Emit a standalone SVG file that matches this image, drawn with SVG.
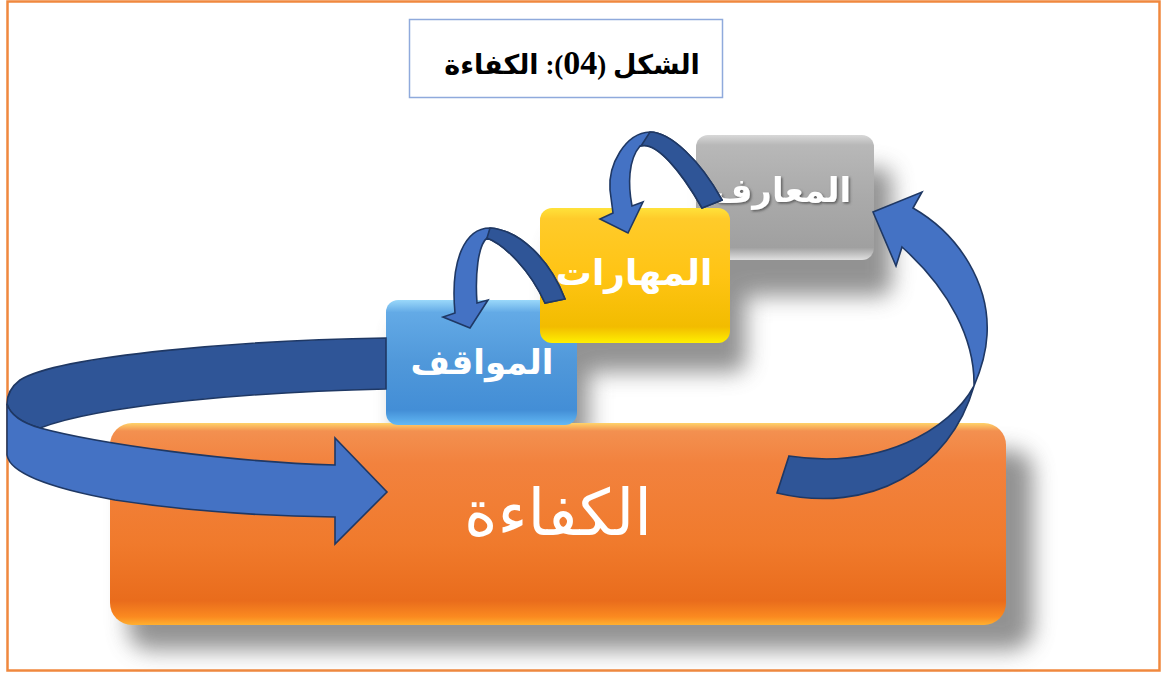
<svg xmlns="http://www.w3.org/2000/svg" width="1164" height="673" viewBox="0 0 1164 673">
<style>
.arw{fill:#4472C4;stroke:#1F3864;stroke-width:1.6;stroke-linejoin:miter}
.dk{fill:#2F5597;stroke:#1F3864;stroke-width:1.6}
.lbl{font-family:'DejaVu Sans','Noto Sans',sans-serif;font-weight:bold;fill:#FFFFFF;text-anchor:middle}
</style>
<defs>
<filter id="sh" x="-20%" y="-30%" width="140%" height="170%"><feGaussianBlur stdDeviation="11"/></filter>
<filter id="tsh" x="-10%" y="-20%" width="120%" height="140%"><feDropShadow dx="1.5" dy="1.5" stdDeviation="0.8" flood-color="#555555" flood-opacity="0.9"/></filter>
<linearGradient id="gOr" x1="0" y1="0" x2="0" y2="1">
<stop offset="0" stop-color="#FFD36A"/><stop offset="0.04" stop-color="#F39050"/><stop offset="0.2" stop-color="#F2823E"/><stop offset="0.6" stop-color="#F07A2C"/><stop offset="0.88" stop-color="#E96C1C"/><stop offset="0.96" stop-color="#FB8A20"/><stop offset="1" stop-color="#FFB030"/>
</linearGradient>
<linearGradient id="gGr" x1="0" y1="0" x2="0" y2="1">
<stop offset="0" stop-color="#D8D8D8"/><stop offset="0.08" stop-color="#B8B8B8"/><stop offset="0.5" stop-color="#AAAAAA"/><stop offset="0.9" stop-color="#A0A0A0"/><stop offset="1" stop-color="#E0E0E0"/>
</linearGradient>
<linearGradient id="gYe" x1="0" y1="0" x2="0" y2="1">
<stop offset="0" stop-color="#FFE23A"/><stop offset="0.08" stop-color="#FFCB2A"/><stop offset="0.5" stop-color="#FFC414"/><stop offset="0.88" stop-color="#F2BC00"/><stop offset="1" stop-color="#FFF000"/>
</linearGradient>
<linearGradient id="gBl" x1="0" y1="0" x2="0" y2="1">
<stop offset="0" stop-color="#9AD8FA"/><stop offset="0.1" stop-color="#63AAE6"/><stop offset="0.5" stop-color="#5098DA"/><stop offset="0.88" stop-color="#438ED6"/><stop offset="1" stop-color="#62B8F4"/>
</linearGradient>
</defs>
<rect x="0" y="0" width="1164" height="673" fill="#FFFFFF"/>
<rect x="7.5" y="1.5" width="1152" height="669" fill="none" stroke="#F0883E" stroke-width="2.5"/>

<g id="title">
<rect x="409.5" y="19.5" width="313" height="78" fill="#FFFFFF" stroke="#8FAADC" stroke-width="1.5"/>
<text x="572" y="74" direction="rtl" text-anchor="middle" font-family="'Liberation Serif','DejaVu Sans',serif" font-weight="bold" font-size="27" fill="#000000">الشكل (<tspan font-size="34" font-weight="bold" font-family="'Liberation Serif',serif">04</tspan>): الكفاءة</text>
</g>

<g id="shadows" fill="#6E6E6E" opacity="0.75" filter="url(#sh)">
<rect x="128" y="450" width="905" height="200" rx="22"/>
<rect x="712" y="168" width="180" height="128" rx="12"/>
<rect x="554" y="238" width="192" height="134" rx="12"/>
<rect x="398" y="326" width="191" height="120" rx="12"/>
</g>

<g id="node-kafaa">
<rect x="110" y="423" width="896" height="202" rx="22" fill="url(#gOr)"/>
<text x="558" y="535" direction="rtl" text-anchor="middle" font-family="'DejaVu Sans','Noto Sans',sans-serif" font-size="64" fill="#FFFFFF">الكفاءة</text>
</g>

<g id="node-maaref">
<rect x="696" y="135" width="178" height="125" rx="12" fill="url(#gGr)"/>
<text class="lbl" x="782" y="202" direction="rtl" font-size="34" filter="url(#tsh)">المعارف</text>
</g>

<g id="node-mawaqif">
<rect x="386" y="300" width="191" height="125" rx="12" fill="url(#gBl)"/>
<text class="lbl" x="482" y="374" direction="rtl" font-size="34">المواقف</text>
</g>

<g id="node-maharat">
<rect x="540" y="208" width="190" height="135" rx="12" fill="url(#gYe)"/>
<text class="lbl" x="634" y="285" direction="rtl" font-size="36">المهارات</text>
</g>

<g id="connectors">
<path class="dk" d="M386,338 C250,340 60,355 20,380 Q7,390 7,404 Q12,420 40,428 C100,405 250,392 386,389 Z"/>
<path class="arw" d="M7,404 Q12,420 40,428 C100,444 230,462 335,465 L335,438 L387,492 L335,544 L335,517 C260,516 180,510 115,500 C60,490 10,475 7,455 Z"/>
<path class="dk" d="M974,386 C950,430 880,470 789,456 L777,493 C870,515 950,470 974,386 Z"/>
<path class="arw" d="M873,212 L922,192 L913,208 C960,235 990,285 987,335 C986,355 980,372 974,386 C975,340 950,290 902,247 L896,266 Z"/>
<path class="arw" d="M722,200 C700,160 670,132 650,132 C625,133 608,165 610,190 L613,213 L600,219 L628,233 L643,202 L632,206 C628,185 628,160 640,146 C655,140 680,170 702,208 Z"/>
<path class="dk" d="M722,200 C700,160 670,132 650,132 L641,146 C657,142 682,172 702,208 Z"/>
<path class="arw" d="M565,299 C550,260 520,230 490,228 C465,228 450,260 455,313 L443,317 L470,328 L488,300 L477,303 C475,275 478,245 487,238 C505,245 530,270 545,303 Z"/>
<path class="dk" d="M565,299 C550,260 520,230 490,228 L487,238 C505,245 530,270 545,303 Z"/>
</g>
</svg>
